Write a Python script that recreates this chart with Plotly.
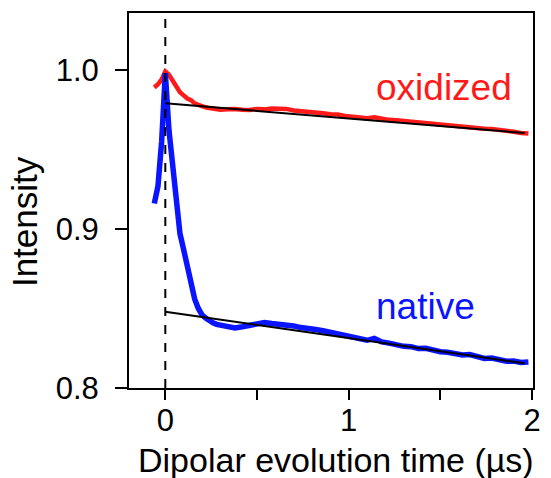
import plotly.graph_objects as go

# time axis (µs)
time = [-0.06, -0.04, -0.02, 0.00, 0.02, 0.04, 0.06, 0.08, 0.10, 0.12, 0.14, 0.16,
        0.18, 0.20, 0.22, 0.24, 0.26, 0.28, 0.30, 0.34, 0.38, 0.42, 0.46, 0.50,
        0.54, 0.58, 0.62, 0.66, 0.70, 0.74, 0.78, 0.82, 0.86, 0.90, 0.94, 0.98,
        1.02, 1.06, 1.10, 1.14, 1.18, 1.22, 1.26, 1.30, 1.34, 1.38, 1.42, 1.46,
        1.50, 1.54, 1.58, 1.62, 1.66, 1.70, 1.74, 1.78, 1.82, 1.86, 1.90, 1.94, 1.98]

oxidized = [0.989, 0.991, 0.994, 0.999, 0.997, 0.993, 0.989, 0.986, 0.984, 0.982, 0.981, 0.979,
            0.978, 0.977, 0.9765, 0.976, 0.9755, 0.9755, 0.975, 0.9752, 0.9755, 0.9750, 0.9748, 0.9755,
            0.9752, 0.9758, 0.9760, 0.9755, 0.9745, 0.9742, 0.9736, 0.9734, 0.9728, 0.9722, 0.9720, 0.9710,
            0.9703, 0.9698, 0.9696, 0.9702, 0.9692, 0.9686, 0.9683, 0.9678, 0.9674, 0.9670, 0.9666, 0.9658,
            0.9655, 0.9652, 0.9647, 0.9641, 0.9638, 0.9634, 0.9630, 0.9628, 0.9620, 0.9614, 0.9611, 0.9604, 0.9600]

native = [0.916, 0.927, 0.955, 0.998, 0.962, 0.940, 0.921, 0.897, 0.887, 0.877, 0.864, 0.856,
          0.850, 0.846, 0.844, 0.842, 0.841, 0.840, 0.8395, 0.8382, 0.8378, 0.8385, 0.8392, 0.8400,
          0.8412, 0.8405, 0.8400, 0.8402, 0.8390, 0.8380, 0.8378, 0.8368, 0.8360, 0.8350, 0.8345, 0.8335,
          0.8325, 0.8318, 0.8300, 0.8312, 0.8290, 0.8282, 0.8268, 0.8262, 0.8260, 0.8248, 0.8250, 0.8235,
          0.8228, 0.8225, 0.8212, 0.8208, 0.8210, 0.8195, 0.8186, 0.8188, 0.8175, 0.8168, 0.8170, 0.8160, 0.8163]

fit_time = [0.0, 1.96]
fit_oxidized = [0.979, 0.9603]
fit_native = [0.848, 0.8155]

x_tickvals = [0, 0.5, 1, 1.5, 2]
x_ticktext = ["0", "", "1", "", "2"]
y_tickvals = [0.8, 0.9, 1.0]
y_ticktext = ["0.8", "0.9", "1.0"]

FONT = "Liberation Sans, Arial, sans-serif"

fig = go.Figure()
fig.add_trace(go.Scatter(x=time, y=oxidized, mode="lines",
                         line=dict(color="#ff1a1a", width=4.5), showlegend=False))
fig.add_trace(go.Scatter(x=time, y=native, mode="lines",
                         line=dict(color="#0a14ff", width=5.5), showlegend=False))
fig.add_trace(go.Scatter(x=fit_time, y=fit_oxidized, mode="lines",
                         line=dict(color="black", width=2), showlegend=False))
fig.add_trace(go.Scatter(x=fit_time, y=fit_native, mode="lines",
                         line=dict(color="black", width=2), showlegend=False))

fig.add_shape(type="line", xref="x", yref="paper", x0=0, x1=0, y0=0, y1=1,
              line=dict(color="black", width=2, dash="dash"), layer="above")

fig.add_annotation(x=1.517, y=0.989, text="oxidized", showarrow=False,
                   font=dict(family=FONT, size=37, color="#ff1a1a"))
fig.add_annotation(x=1.42, y=0.851, text="native", showarrow=False,
                   font=dict(family=FONT, size=37, color="#0a14ff"))
fig.add_annotation(xref="paper", yref="paper", x=0.512, y=-0.192, text="Dipolar evolution time (µs)",
                   showarrow=False, yanchor="middle",
                   font=dict(family=FONT, size=34, color="black"))
fig.add_annotation(xref="paper", yref="paper", x=-0.26, y=0.445, text="Intensity",
                   showarrow=False, textangle=-90, xanchor="center", yanchor="middle",
                   font=dict(family=FONT, size=35, color="black"))

fig.update_layout(
    width=551, height=478,
    margin=dict(l=129, r=10, t=13, b=90),
    paper_bgcolor="white", plot_bgcolor="white",
    font=dict(family=FONT, size=31, color="black"),
    xaxis=dict(range=[-0.198, 2.005], tickvals=x_tickvals, ticktext=x_ticktext,
               ticks="outside", ticklen=10, tickwidth=2, tickcolor="black",
               showline=True, linewidth=2, linecolor="black", mirror=True,
               showgrid=False, zeroline=False, ticklabelstandoff=-6),
    yaxis=dict(range=[0.8, 1.0358], tickvals=y_tickvals, ticktext=y_ticktext,
               ticks="outside", ticklen=12, tickwidth=2, tickcolor="black",
               showline=True, linewidth=2, linecolor="black", mirror=True,
               showgrid=False, zeroline=False, ticklabelstandoff=10),
)

fig.write_html("out.html")
